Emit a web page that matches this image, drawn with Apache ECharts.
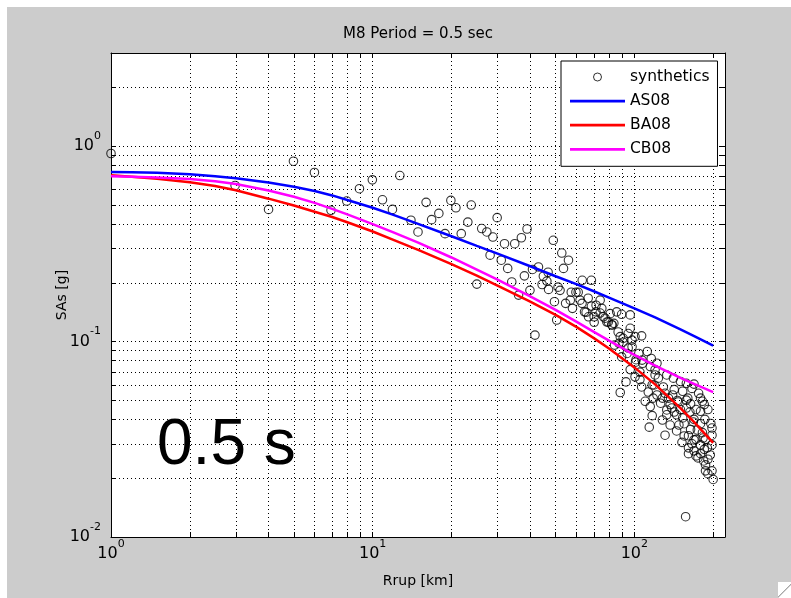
<!DOCTYPE html>
<html>
<head>
<meta charset="utf-8">
<title>M8 Period = 0.5 sec</title>
<script src="https://cdn.jsdelivr.net/npm/echarts@6/dist/echarts.min.js"></script>
<style>
  html, body { margin: 0; padding: 0; background: #fff; }
  #frame { position: absolute; left: 7px; top: 7px; width: 784px; height: 591px; background: #cccccc; }
  #grip { position: absolute; left: 778px; top: 582px; width: 13px; height: 16px;
          background: linear-gradient(135deg, #fff 0%, #fff 50%, #9a9a9a 52%, #fff 58%, #fff 100%); }
  #chart { position: absolute; left: 0; top: 0; width: 791px; height: 598px; }
</style>
</head>
<body>
<div id="frame"></div>
<div id="grip"></div>
<div id="chart"></div>
<script>
// Rupture distance (km) at which the three GMPE curves are evaluated
const rupDist = [1, 1.2, 1.5, 2, 2.5, 3, 4, 5, 6, 7, 8, 10, 12, 15, 20, 25, 30, 40, 50, 60, 70, 80, 100, 120, 150, 170, 200];
// Median spectral acceleration (g) for each model
const as08 = [0.737, 0.736, 0.731, 0.718, 0.702, 0.685, 0.652, 0.620, 0.590, 0.560, 0.531, 0.484, 0.445, 0.399, 0.346, 0.309, 0.282, 0.243, 0.216, 0.197, 0.181, 0.168, 0.148, 0.133, 0.1156, 0.1065, 0.0953];
const ba08 = [0.711, 0.698, 0.681, 0.654, 0.626, 0.595, 0.539, 0.497, 0.462, 0.434, 0.408, 0.366, 0.332, 0.294, 0.249, 0.2177, 0.1937, 0.1602, 0.137, 0.1189, 0.1042, 0.0922, 0.0738, 0.0604, 0.0457, 0.0385, 0.0303];
const cb08 = [0.703, 0.698, 0.691, 0.679, 0.661, 0.640, 0.594, 0.551, 0.513, 0.478, 0.448, 0.3995, 0.362, 0.320, 0.2695, 0.2335, 0.2075, 0.1706, 0.1453, 0.1265, 0.1122, 0.1011, 0.0855, 0.0753, 0.0653, 0.0606, 0.0552];

// Synthetic ground motions: distance (km) and SA (g)
const synthDist = [
  1.0, 2.98, 4.0, 4.98, 5.99, 6.93, 7.96, 8.9, 9.97, 10.9, 11.9, 12.7,
  14.0, 14.9, 16.0, 16.8, 17.9, 18.9, 19.9, 20.8, 21.8, 23.1, 23.8, 25.0,
  26.1, 27.3, 28.1, 28.8, 29.9, 31.0, 31.9, 32.8, 34.0, 34.9, 36.1, 37.0,
  38.0, 38.9, 39.9, 40.8, 41.7, 43.0, 44.4, 44.9, 46.3, 47.0, 49.0, 49.5,
  50.5, 51.1, 52.8, 53.6, 54.6, 56.0, 57.4, 58.0, 59.8, 62.0, 63.1, 63.2,
  64.5, 66.8, 68.5, 68.5, 70.2, 71.3, 74.0, 74.0, 75.1, 76.2, 78.5, 79.5,
  80.8, 81.9, 83.5, 84.0, 85.6, 87.3, 88.3, 88.3, 89.4, 89.4, 90.6, 92.9,
  93.8, 94.7, 96.4, 96.4, 96.4, 98.0, 100.6, 100.6, 101.5, 104, 105, 106.6,
  106.6, 107.6, 110, 112, 114, 115, 115, 116, 117, 118, 119, 120,
  122, 123.5, 126, 129, 131, 131, 133, 133, 135, 137, 139, 141,
  142, 145, 145, 146, 150, 150, 152, 153, 155, 157, 158, 158,
  160, 161, 161, 164, 164, 166, 166, 169, 169, 169, 172, 172,
  172, 176, 179, 179, 179, 179, 182, 182, 184, 185, 185, 186,
  187, 187, 191, 191, 191, 196, 198, 198, 198, 200,
  113, 117, 122, 128, 133, 140, 142, 147, 153, 158, 163, 168,
  174, 179, 183, 190, 195, 198, 169, 161, 155, 148, 137, 128,
  175, 187, 105, 101, 94.7, 107, 120, 86.7, 82.3, 77.3, 71.4, 66.6,
  61, 56.9, 52, 46.8, 65.4, 70.2, 90.6, 98
];
const synthSA = [
  0.918, 0.63, 0.475, 0.838, 0.734, 0.47, 0.524, 0.606, 0.673, 0.532, 0.475, 0.708,
  0.418, 0.364, 0.516, 0.421, 0.453, 0.357, 0.528, 0.484, 0.357, 0.409, 0.50, 0.197,
  0.379, 0.364, 0.277, 0.343, 0.431, 0.261, 0.317, 0.237, 0.202, 0.317, 0.173, 0.34,
  0.217, 0.377, 0.183, 0.234, 0.108, 0.241, 0.196, 0.216, 0.204, 0.185, 0.33, 0.16,
  0.129, 0.19, 0.284, 0.237, 0.157, 0.261, 0.179, 0.148, 0.179, 0.163, 0.157, 0.206,
  0.142, 0.134, 0.206, 0.152, 0.134, 0.142, 0.163, 0.14, 0.148, 0.134, 0.126, 0.126,
  0.139, 0.122, 0.124, 0.096, 0.142, 0.098, 0.106, 0.0549, 0.138, 0.0835, 0.104, 0.0622,
  0.087, 0.110, 0.137, 0.117, 0.0719, 0.094, 0.106, 0.066, 0.0808, 0.087, 0.0639, 0.107,
  0.0586, 0.0775, 0.0495, 0.089, 0.0365, 0.0745, 0.0465, 0.082, 0.0418, 0.0514, 0.060, 0.0719,
  0.0775, 0.065, 0.0484, 0.0586, 0.0544, 0.0332, 0.0675, 0.0422, 0.0514, 0.0476, 0.0457, 0.065,
  0.0568, 0.0422, 0.0349, 0.050, 0.0625, 0.0449, 0.0305, 0.0557, 0.038, 0.0127, 0.0612, 0.0457,
  0.0514, 0.033, 0.0267, 0.048, 0.0355, 0.0576, 0.030, 0.0606, 0.040, 0.0276, 0.0449, 0.0316,
  0.026, 0.0544, 0.0514, 0.044, 0.038, 0.0267, 0.0495, 0.0342, 0.0245, 0.0476, 0.0281, 0.040,
  0.0316, 0.0218, 0.0449, 0.025, 0.0211, 0.0381, 0.0332, 0.0296, 0.0218, 0.0197,
  0.0552, 0.060, 0.0533, 0.0514, 0.0447, 0.0533, 0.0436, 0.0491, 0.0407, 0.0502, 0.0436, 0.0388,
  0.0353, 0.0296, 0.0321, 0.0286, 0.0263, 0.0361, 0.0314, 0.0286, 0.0329, 0.0374, 0.0374, 0.0397,
  0.0254, 0.0234, 0.0698, 0.0785, 0.0927, 0.0804, 0.0675, 0.112, 0.1216, 0.1318, 0.1535, 0.1668,
  0.179, 0.163, 0.183, 0.2265, 0.1413, 0.1256, 0.0993, 0.1018
];

// Axis limits, tick positions (decades plus 2..9 sub-decades) and labelled decades
const xLimits = [1, 222];
const yLimits = [0.01, 3];
const xTicks = [1, 2, 3, 4, 5, 6, 7, 8, 9, 10, 20, 30, 40, 50, 60, 70, 80, 90, 100, 200];
const yTicks = [0.01, 0.02, 0.03, 0.04, 0.05, 0.06, 0.07, 0.08, 0.09,
                0.1, 0.2, 0.3, 0.4, 0.5, 0.6, 0.7, 0.8, 0.9, 1, 2, 3];
const xLabels = [1, 10, 100];
const yLabels = [0.01, 0.1, 1];

const FONT = 'DejaVu Sans';
const INK = '#000';

// "10" with the exponent raised as a superscript
function powLabel(v) {
  const lg = Math.log10(v);
  const e = Math.round(lg);
  return Math.abs(lg - e) < 1e-6 ? '{b|10}{s|' + e + '}' : '';
}
const powRich = {
  b: { fontFamily: FONT, fontSize: 16, lineHeight: 16, color: INK },
  s: { fontFamily: FONT, fontSize: 11, lineHeight: 11, color: INK, padding: [0, 0, 20, 0] }
};

const dotted = { color: INK, width: 1, type: [1, 3] };

// Log axis drawn as one side of the box, with inward ticks at every decade and sub-decade
function frameAxis(position, limits, ticks) {
  return {
    type: 'log', logBase: 10, min: limits[0], max: limits[1], position: position,
    axisLine: { show: true, onZero: false, lineStyle: { color: INK, width: 1 } },
    axisTick: { show: true, inside: true, length: 5, customValues: ticks, lineStyle: { color: INK, width: 1 } },
    axisLabel: { show: false },
    splitLine: { show: false },
    axisPointer: { show: false }
  };
}

const xMain = Object.assign(frameAxis('bottom', xLimits, xTicks), {
  axisLabel: { show: true, customValues: xLabels, formatter: powLabel, rich: powRich, margin: 9 },
  splitLine: { show: true, lineStyle: dotted },
  name: 'Rrup [km]', nameLocation: 'middle', nameGap: 37, nameMoveOverlap: false,
  nameTextStyle: { fontFamily: FONT, fontSize: 14, color: INK }
});
const yMain = Object.assign(frameAxis('left', yLimits, yTicks), {
  axisLabel: { show: true, customValues: yLabels, formatter: powLabel, rich: powRich, margin: 10 },
  splitLine: { show: true, lineStyle: dotted },
  name: 'SAs [g]', nameLocation: 'middle', nameGap: 42, nameMoveOverlap: false,
  nameTextStyle: { fontFamily: FONT, fontSize: 14, color: INK }
});

const pairs = (xs, ys) => xs.map((x, i) => [x, ys[i]]);

function modelLine(name, values, color) {
  return {
    name: name, type: 'line', xAxisIndex: 0, yAxisIndex: 0,
    data: pairs(rupDist, values),
    symbol: 'none', smooth: false, silent: true,
    lineStyle: { color: color, width: 2.5 },
    itemStyle: { color: color }
  };
}

const chart = echarts.init(document.getElementById('chart'), null, { renderer: 'canvas' });
chart.setOption({
  animation: false,
  backgroundColor: 'transparent',
  textStyle: { fontFamily: FONT },
  grid: { left: 111, top: 53, width: 614, height: 484, show: true, backgroundColor: '#fff', borderWidth: 0 },
  xAxis: [xMain, frameAxis('top', xLimits, xTicks)],
  yAxis: [yMain, frameAxis('right', yLimits, yTicks)],
  legend: {
    orient: 'vertical', left: 561, top: 61,
    backgroundColor: '#fff', borderColor: INK, borderWidth: 1, borderRadius: 0,
    padding: [8, 8, 9, 9],
    itemWidth: 55, itemHeight: 8, itemGap: 8.1,
    selectedMode: false,
    textStyle: { fontFamily: FONT, fontSize: 15.5, lineHeight: 16, color: INK },
    data: [
      { name: 'synthetics', icon: 'circle', itemStyle: { color: 'rgba(0,0,0,0)', borderColor: INK, borderWidth: 1 } },
      { name: 'AS08', icon: 'path://M0,0H60V3H0Z', itemStyle: { color: '#0000ff', borderWidth: 0 } },
      { name: 'BA08', icon: 'path://M0,0H60V3H0Z', itemStyle: { color: '#ff0000', borderWidth: 0 } },
      { name: 'CB08', icon: 'path://M0,0H60V3H0Z', itemStyle: { color: '#ff00ff', borderWidth: 0 } }
    ]
  },
  graphic: [
    { type: 'text', x: 418, y: 34, silent: true,
      style: { text: 'M8 Period = 0.5 sec', fontFamily: FONT, fontSize: 15, fill: INK, align: 'center', verticalAlign: 'middle' } },
    { type: 'text', x: 157, y: 446, silent: true, z: 10,
      style: { text: '0.5 s', fontFamily: 'Liberation Sans', fontSize: 64, fill: INK, align: 'left', verticalAlign: 'middle' } }
  ],
  series: [
    {
      name: 'synthetics', type: 'scatter', xAxisIndex: 0, yAxisIndex: 0,
      data: pairs(synthDist, synthSA),
      symbol: 'circle', symbolSize: 8.5, silent: true,
      itemStyle: { color: 'rgba(0,0,0,0)', borderColor: INK, borderWidth: 1.1 }
    },
    modelLine('AS08', as08, '#0000ff'),
    modelLine('BA08', ba08, '#ff0000'),
    modelLine('CB08', cb08, '#ff00ff')
  ]
});
</script>
</body>
</html>
